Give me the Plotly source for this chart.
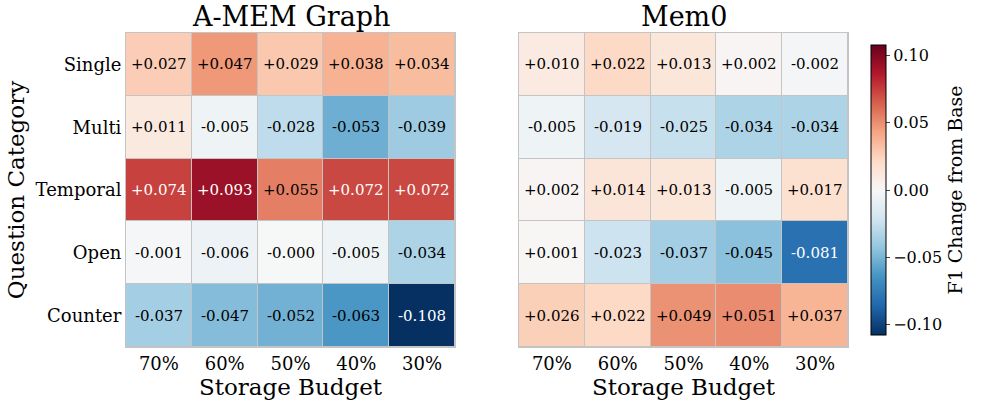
import plotly.graph_objects as go
import plotly.express as px

budgets = ["70%", "60%", "50%", "40%", "30%"]
categories = ["Single", "Multi", "Temporal", "Open", "Counter"]

amem_delta = [
    [0.027, 0.047, 0.029, 0.038, 0.034],
    [0.011, -0.005, -0.028, -0.053, -0.039],
    [0.074, 0.093, 0.055, 0.072, 0.072],
    [-0.001, -0.006, -0.0004, -0.005, -0.034],
    [-0.037, -0.047, -0.052, -0.063, -0.108],
]
mem0_delta = [
    [0.010, 0.022, 0.013, 0.002, -0.002],
    [-0.005, -0.019, -0.025, -0.034, -0.034],
    [0.002, 0.014, 0.013, -0.005, 0.017],
    [0.001, -0.023, -0.037, -0.045, -0.081],
    [0.026, 0.022, 0.049, 0.051, 0.037],
]
cbar_ticks = [-0.10, -0.05, 0.00, 0.05, 0.10]
cbar_labels = ["\u22120.10", "\u22120.05", "0.00", "0.05", "0.10"]

FONT = "DejaVu Serif"
GRID = "#c4c4c4"
vmax = 0.108

cols = px.colors.diverging.RdBu_r
scale = [[i / (len(cols) - 1), c] for i, c in enumerate(cols)]

fig = go.Figure()
panels = [("A-MEM Graph", amem_delta, "x", "y"), ("Mem0", mem0_delta, "x2", "y2")]
for i, (name, z, xa, ya) in enumerate(panels):
    fig.add_trace(go.Heatmap(
        z=z, x=budgets, y=categories, xaxis=xa, yaxis=ya,
        colorscale=scale, zmin=-vmax, zmax=vmax, xgap=1, ygap=1,
        showscale=(i == 1), hoverinfo="skip",
        colorbar=dict(
            x=871 / 981, xanchor="left", xpad=0, ypad=0,
            y=1 - 190 / 405, yanchor="middle",
            len=290 / 405, lenmode="fraction", thickness=15,
            outlinewidth=1, outlinecolor="black",
            tickvals=cbar_ticks, ticktext=cbar_labels, ticks="outside",
            ticklen=4, tickfont=dict(family=FONT, size=16, color="black"),
            title=dict(text="F1 Change from Base", side="right",
                       font=dict(family=FONT, size=19, color="black")),
        ),
    ))
    for r, cat in enumerate(categories):
        for c, b in enumerate(budgets):
            v = z[r][c]
            fig.add_annotation(
                x=b, y=cat, xref=xa, yref=ya, text=f"{v:+.3f}", showarrow=False,
                font=dict(family=FONT, size=15,
                          color="white" if abs(v) >= 0.07 else "black"),
            )

dom1 = [126 / 981, 455 / 981]
dom2 = [519 / 981, 848 / 981]
ydom = [58 / 405, 372 / 405]
for dom, name in [(dom1, "A-MEM Graph"), (dom2, "Mem0")]:
    fig.add_annotation(
        x=(dom[0] + dom[1]) / 2, y=1 - 16 / 405, xref="paper", yref="paper",
        text=name, showarrow=False, xanchor="center", yanchor="middle",
        font=dict(family=FONT, size=27, color="black"),
    )

axis_common = dict(showgrid=False, zeroline=False, showline=True, mirror=True,
                   linecolor=GRID, linewidth=1, ticks="", automargin=False,
                   tickfont=dict(family=FONT, size=18, color="black"))
fig.update_layout(
    width=981, height=405,
    margin=dict(l=0, r=0, t=0, b=0, autoexpand=False),
    paper_bgcolor="white", plot_bgcolor=GRID,
    xaxis=dict(domain=dom1, anchor="y", title=dict(
        text="Storage Budget", standoff=2,
        font=dict(family=FONT, size=23, color="black")), **axis_common),
    yaxis=dict(domain=ydom, anchor="x", autorange="reversed", title=dict(
        text="Question Category", standoff=4,
        font=dict(family=FONT, size=23, color="black")), **axis_common),
    xaxis2=dict(domain=dom2, anchor="y2", title=dict(
        text="Storage Budget", standoff=2,
        font=dict(family=FONT, size=23, color="black")), **axis_common),
    yaxis2=dict(domain=ydom, anchor="x2", autorange="reversed",
                showticklabels=False, **axis_common),
)

# the page body has a default 8px margin; drop it so the figure fills the window
fig.write_html("out.html", config={"displayModeBar": False},
               post_script="document.body.style.margin='0';")
